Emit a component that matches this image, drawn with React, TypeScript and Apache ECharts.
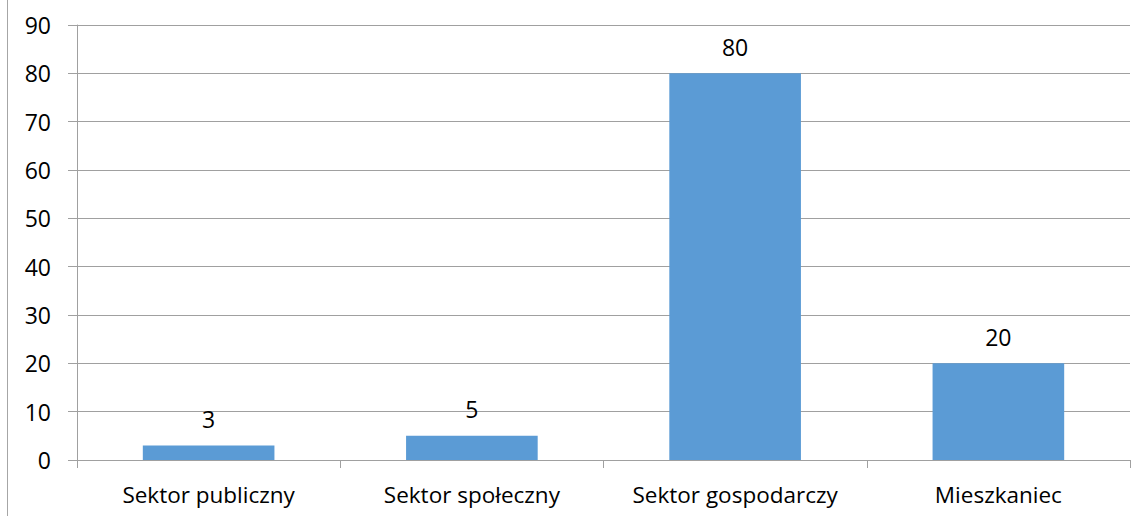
import React, { useEffect, useRef } from "react";
import * as echarts from "echarts";

const categories = ["Sektor publiczny", "Sektor społeczny", "Sektor gospodarczy", "Mieszkaniec"];
const values = [3, 5, 80, 20];
const yMin = 0;
const yMax = 90;
const yInterval = 10;

export default function App() {
  const ref = useRef<HTMLDivElement>(null);
  useEffect(() => {
    document.body.style.margin = "0";
    const chart = echarts.init(ref.current!, null, { renderer: "svg" });
    const font = "'Open Sans', 'Liberation Sans', sans-serif";
    chart.setOption({
      animation: false,
      textStyle: { fontFamily: font },
      grid: { left: 77, right: 14, top: 25, bottom: 56 },
      graphic: [
        {
          type: "line",
          shape: { x1: 7.5, y1: 0, x2: 7.5, y2: 516 },
          style: { stroke: "#A6A6A6", lineWidth: 1 },
        },
      ],
      xAxis: {
        type: "category",
        data: categories,
        axisLine: { lineStyle: { color: "#A0A0A0" } },
        axisTick: { show: true, interval: 0, length: 8, alignWithLabel: false, lineStyle: { color: "#A0A0A0" } },
        axisLabel: { color: "#000", interval: 0, fontSize: 22.5, fontFamily: font, margin: 23 },
      },
      yAxis: {
        type: "value",
        min: yMin,
        max: yMax,
        interval: yInterval,
        axisLine: { show: true, lineStyle: { color: "#A0A0A0" } },
        axisTick: { show: true, length: 9, lineStyle: { color: "#A0A0A0" } },
        splitLine: { lineStyle: { color: "#A0A0A0" } },
        axisLabel: { color: "#000", fontSize: 23, fontFamily: font, margin: 26 },
      },
      series: [
        {
          type: "bar",
          data: values,
          barWidth: "50%",
          itemStyle: { color: "#5B9BD5" },
          label: { show: true, position: "top", distance: 15, color: "#000", fontSize: 23, fontFamily: font },
        },
      ],
    });
    return () => chart.dispose();
  }, []);
  return <div ref={ref} style={{ width: 1144, height: 516 }} />;
}
